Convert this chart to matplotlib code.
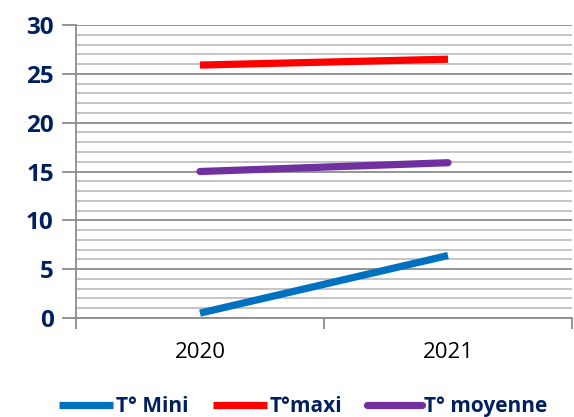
import matplotlib.pyplot as plt
from matplotlib.ticker import FixedLocator, MultipleLocator

# Data
years = ["2020", "2021"]
t_mini = [0.5, 6.4]
t_maxi = [25.9, 26.5]
t_moyenne = [15.0, 15.9]
y_ticks = [0, 5, 10, 15, 20, 25, 30]

navy = "#002060"
plt.rcParams["font.family"] = ["Open Sans", "DejaVu Sans"]

fig = plt.figure(figsize=(5.74, 4.17), dpi=100)
ax = fig.add_axes([0.1324, 0.2374, 0.8641, 0.7026])

x = list(range(len(years)))
ax.plot(x, t_mini, color="#0070C0", lw=5.2, solid_capstyle="butt", label="T° Mini")
ax.plot(x, t_maxi, color="#FF0000", lw=5.2, solid_capstyle="butt", label="T°maxi")
ax.plot(x, t_moyenne, color="#7030A0", lw=5.2, solid_capstyle="round", label="T° moyenne")

ax.set_xlim(-0.5, 1.5)
ax.set_ylim(0, 30)

# grid: light every 1, darker every 5
ax.set_yticks(y_ticks)
ax.set_yticklabels([str(v) for v in y_ticks], fontweight="bold", fontsize=17.5, color=navy)
ax.yaxis.set_minor_locator(MultipleLocator(1))
ax.grid(axis="y", which="minor", color="#BFBFBF", lw=1.3)
ax.grid(axis="y", which="major", color="#8C8C8C", lw=1.3)
ax.set_axisbelow(True)

ax.xaxis.set_major_locator(FixedLocator([-0.5, 0.5, 1.5]))
ax.set_xticklabels([])
ax.set_xticks(x, minor=True)
ax.set_xticklabels(years, minor=True, fontsize=16, color="black")
ax.tick_params(axis="x", which="major", length=8, width=1.3, color="#8C8C8C")
ax.tick_params(axis="x", which="minor", length=0, pad=17)
ax.tick_params(axis="y", which="major", length=10, width=1.3, color="#8C8C8C", pad=6)
ax.tick_params(axis="y", which="minor", length=0)

for s in ["top", "right"]:
    ax.spines[s].set_visible(False)
ax.spines["left"].set_color("#8C8C8C")
ax.spines["left"].set_linewidth(1.3)
ax.spines["bottom"].set_color("#8C8C8C")
ax.spines["bottom"].set_linewidth(1.3)

leg = fig.legend(loc="lower center", bbox_to_anchor=(0.528, -0.045), ncol=3, frameon=False,
                 handlelength=2.6, handletextpad=0.12, columnspacing=1.2,
                 prop={"weight": "bold", "size": 15})
for t in leg.get_texts():
    t.set_color(navy)

fig.savefig("out.png", dpi=100)
